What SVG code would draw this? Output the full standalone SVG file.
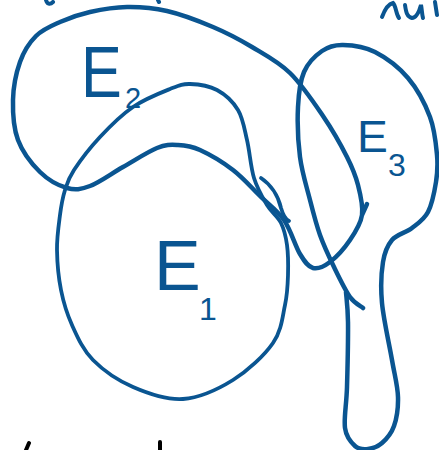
<svg xmlns="http://www.w3.org/2000/svg" width="439" height="450" viewBox="0 0 439 450">
<style>
.s{fill:none;stroke:#0a5591;stroke-linecap:round;stroke-linejoin:round}
.lbl{font-family:"Liberation Sans",Arial,sans-serif;fill:#0a5591}
.frag{fill:none;stroke:#0a5591;stroke-width:4;stroke-linecap:round}
.fragk{fill:none;stroke:#000;stroke-width:4;stroke-linecap:round}
</style>
<rect width="439" height="450" fill="#fff"/>
<g id="fragments">
<path class="frag" d="M46,0 C47,4 50,5 53,2"/>
<path class="frag" d="M158,0 L159,2"/>
<path class="frag" d="M382,17 C385,9 388,4 393,3 C396,6 396,14 399,18"/>
<path class="frag" d="M405,5 C406,12 407,17 412,18 C416,18 419,12 421,5 C422,10 422,15 423,18"/>
<path class="frag" d="M435,2 L437,15"/>
<path class="fragk" d="M29,443 L26,450"/>
<path class="fragk" d="M160,442 L160,450"/>
</g>
<g id="E2">
<path class="s" stroke-width="4.5" d="M362,215 C360.7,224.2 355.3,232.2 350,240 C344.7,247.8 336.2,257.3 330,262 C323.8,266.7 318,269.3 313,268 C308,266.7 304.8,262 300,254 C295.2,246 290.7,229.7 284,220 C277.3,210.3 268.5,204.3 260,196 C251.5,187.7 243,177.7 233,170 C223,162.3 209.2,154.2 200,150 C190.8,145.8 185.2,145.3 178,145 C170.8,144.7 166.2,144.3 157,148 C147.8,151.7 134.2,160.7 123,167 C111.8,173.3 99.3,182.5 90,186 C80.7,189.5 75.3,190.3 67,188 C58.7,185.7 48.2,180 40,172 C31.8,164 22.5,152 18,140 C13.5,128 12.7,113 13,100 C13.3,87 16.2,72.7 20,62 C23.8,51.3 29.3,42.7 36,36 C42.7,29.3 51,26 60,22 C69,18 78.8,14.5 90,12 C101.2,9.5 114.2,7.2 127,7 C139.8,6.8 152.7,7.7 167,11 C181.3,14.3 198.8,21 213,27 C227.2,33 239.2,39.3 252,47 C264.8,54.7 278.2,61.5 290,73 C301.8,84.5 313.5,102 323,116 C332.5,130 341.2,145.5 347,157 C352.8,168.5 355.5,175.3 358,185 C360.5,194.7 363.3,205.8 362,215 L367,204"/>
<text class="lbl" transform="translate(81,97) scale(0.85,1)" font-size="72">E</text>
<text class="lbl" x="125" y="108" font-size="29">2</text>
</g>
<g id="E1">
<path class="s" stroke-width="3.8" d="M190,84 C197.8,84.2 209,85.7 217,90 C225,94.3 233,101.7 238,110 C243,118.3 244.3,128.7 247,140 C249.7,151.3 250.7,167.2 254,178 C257.3,188.8 262.5,197.5 267,205 C271.5,212.5 277.7,216.3 281,223 C284.3,229.7 285.8,236.3 287,245 C288.2,253.7 288.3,265 288,275 C287.7,285 287.5,293.7 285,305 C282.5,316.3 281.7,330.5 273,343 C264.3,355.5 248,370.7 233,380 C218,389.3 199.7,397.8 183,399 C166.3,400.2 148,393.5 133,387 C118,380.5 103.2,370.3 93,360 C82.8,349.7 77.3,336.7 72,325 C66.7,313.3 63.5,302.5 61,290 C58.5,277.5 57.2,262.5 57,250 C56.8,237.5 58.7,225 60,215 C61.3,205 62.7,197.5 65,190 C67.3,182.5 68.2,178.8 74,170 C79.8,161.2 90.2,147.5 100,137 C109.8,126.5 121.3,115 133,107 C144.7,99 160.5,92.8 170,89 C179.5,85.2 182.2,83.8 190,84"/>
<path class="s" stroke-width="3.8" d="M261,178 C270,184 278,195 281,208 C283,215 285,219 289,221"/>
<text class="lbl" x="154" y="290" font-size="70">E</text>
<text class="lbl" x="199" y="320" font-size="32">1</text>
</g>
<g id="E3">
<path class="s" stroke-width="4.5" d="M346,292 C346.3,297 347.8,306.2 348,322 C348.2,337.8 347.5,369.3 347,387 C346.5,404.7 343.7,418.2 345,428 C346.3,437.8 351.2,442.5 355,446 C358.8,449.5 363.5,449.5 368,449 C372.5,448.5 377.7,446.8 382,443 C386.3,439.2 391.3,433.7 394,426 C396.7,418.3 398.3,408 398,397 C397.7,386 394.7,375.7 392,360 C389.3,344.3 383.5,319.3 382,303 C380.5,286.7 381.3,272.5 383,262 C384.7,251.5 387.2,245.7 392,240 C396.8,234.3 406,232.7 412,228 C418,223.3 424,219.7 428,212 C432,204.3 434.5,191.5 436,182 C437.5,172.5 438,165.8 437,155 C436,144.2 434.8,129.8 430,117 C425.2,104.2 417.2,88.8 408,78 C398.8,67.2 385.8,57.5 375,52 C364.2,46.5 351.8,45.2 343,45 C334.2,44.8 328.5,46.5 322,51 C315.5,55.5 308,62.7 304,72 C300,81.3 298.7,92.8 298,107 C297.3,121.2 298,141.5 300,157 C302,172.5 306.7,187 310,200 C313.3,213 316,223.8 320,235 C324,246.2 329,256.7 334,267 C339,277.3 345.2,290.2 350,297 C354.8,303.8 360.8,306.2 363,308"/>
<text class="lbl" transform="translate(357,152) scale(1.05,1)" font-size="44">E</text>
<text class="lbl" x="388" y="176" font-size="32">3</text>
</g>
</svg>
